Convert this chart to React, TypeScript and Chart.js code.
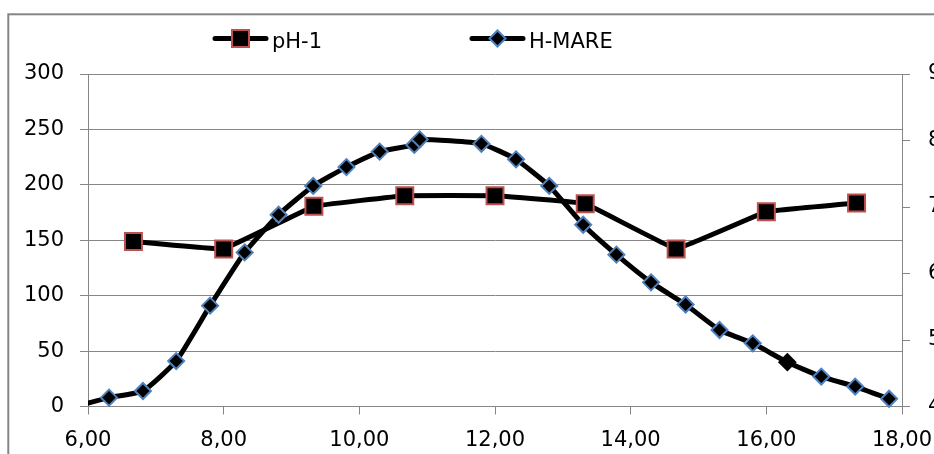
import React, { useEffect, useRef } from 'react';
import { Chart, registerables } from 'chart.js';

Chart.register(...registerables);

// ---- data ----
const seriesNames = ['pH-1', 'H-MARE'];

const phTimes = [6.67, 8.0, 9.33, 10.67, 12.0, 13.33, 14.67, 16.0, 17.33];
const phValues = [6.48, 6.37, 7.01, 7.17, 7.17, 7.05, 6.37, 6.93, 7.06];

const mareTimes = [5.81, 6.31, 6.81, 7.3, 7.8, 8.31, 8.81, 9.32, 9.81, 10.3, 10.81, 10.89, 11.8, 12.31, 12.8, 13.3, 13.79, 14.3, 14.81, 15.31, 15.8, 16.31, 16.81, 17.31, 17.81];
const mareValues = [0, 8, 14, 41, 91, 139, 173, 199, 216, 230, 236, 241, 237, 223, 199, 164, 137, 112, 92, 69, 57, 40, 27, 18, 7];
// point drawn without the blue outline
const mareDarkPoint = 16.31;

const xTickLabels = ['6,00', '8,00', '10,00', '12,00', '14,00', '16,00', '18,00'];
const leftTickLabels = ['0', '50', '100', '150', '200', '250', '300'];
const rightTickLabels = ['4', '5', '6', '7', '8', '9'];

// ---- style ----
const W = 1000;
const H = 454;
const FONT = 'DejaVu Sans';
const GRID = '#868686';
const RED = '#C0504D';
const BLUE = '#4F81BD';

function drawSquare(ctx: CanvasRenderingContext2D, x: number, y: number) {
  const s = 17;
  ctx.fillStyle = '#000';
  ctx.fillRect(x - s / 2, y - s / 2, s, s);
  ctx.strokeStyle = RED;
  ctx.lineWidth = 2;
  ctx.strokeRect(x - s / 2, y - s / 2, s, s);
}

function drawDiamond(ctx: CanvasRenderingContext2D, x: number, y: number) {
  const r = 8;
  ctx.beginPath();
  ctx.moveTo(x, y - r);
  ctx.lineTo(x + r, y);
  ctx.lineTo(x, y + r);
  ctx.lineTo(x - r, y);
  ctx.closePath();
  ctx.fillStyle = '#000';
  ctx.fill();
  ctx.strokeStyle = BLUE;
  ctx.lineWidth = 2;
  ctx.stroke();
}

const framePlugin = {
  id: 'frameAndLegend',
  beforeDraw(chart: any) {
    const ctx = chart.ctx as CanvasRenderingContext2D;
    ctx.save();
    ctx.fillStyle = '#fff';
    ctx.fillRect(0, 0, chart.width, chart.height);
    ctx.strokeStyle = GRID;
    ctx.lineWidth = 2;
    ctx.strokeRect(8.3, 14.3, chart.width + 20, chart.height + 20);
    ctx.restore();
  },
  afterDraw(chart: any) {
    const ctx = chart.ctx as CanvasRenderingContext2D;
    ctx.save();
    const items = [
      { x: 213, name: seriesNames[0], marker: drawSquare },
      { x: 470, name: seriesNames[1], marker: drawDiamond },
    ];
    const y = 38.5;
    for (const it of items) {
      ctx.strokeStyle = '#000';
      ctx.lineWidth = 5;
      ctx.lineCap = 'round';
      ctx.beginPath();
      ctx.moveTo(it.x + 2, y);
      ctx.lineTo(it.x + 53, y);
      ctx.stroke();
      it.marker(ctx, it.x + 27.5, y);
      ctx.fillStyle = '#000';
      ctx.font = `21px "${FONT}"`;
      ctx.textAlign = 'left';
      ctx.textBaseline = 'alphabetic';
      ctx.fillText(it.name, it.x + 59, 48);
    }
    ctx.restore();
  },
};

export default function App() {
  const ref = useRef<HTMLCanvasElement>(null);

  useEffect(() => {
    if (!ref.current) return;
    const tickFont = { family: FONT, size: 21 };
    const chart = new Chart(ref.current, {
      type: 'line',
      data: {
        datasets: [
          {
            label: seriesNames[0],
            data: phTimes.map((t, i) => ({ x: t, y: phValues[i] })),
            yAxisID: 'y2',
            borderColor: '#000',
            borderWidth: 5,
            borderJoinStyle: 'round',
            tension: 0.05,
            pointStyle: 'rect',
            pointRadius: 12,
            pointBackgroundColor: '#000',
            pointBorderColor: RED,
            pointBorderWidth: 2,
            order: 1,
            clip: { left: 0, top: 6, right: 6, bottom: 6 } as any,
          },
          {
            label: seriesNames[1],
            data: mareTimes.map((t, i) => ({ x: t, y: mareValues[i] })),
            yAxisID: 'y',
            borderColor: '#000',
            borderWidth: 5,
            borderJoinStyle: 'round',
            tension: 0.15,
            pointStyle: 'rectRot',
            pointRadius: 8,
            pointBackgroundColor: '#000',
            pointBorderColor: mareTimes.map((t) => (t === mareDarkPoint ? '#000' : BLUE)),
            pointBorderWidth: 2,
            order: 0,
            clip: { left: 0, top: 6, right: 6, bottom: 6 } as any,
          },
        ],
      },
      options: {
        responsive: false,
        animation: false,
        events: [],
        layout: { padding: { top: 74, left: 0, right: 0, bottom: 0 } },
        plugins: {
          legend: { display: false },
          tooltip: { enabled: false },
          title: { display: false },
        },
        scales: {
          x: {
            type: 'linear',
            min: 6,
            max: 18,
            ticks: {
              stepSize: 2,
              font: tickFont,
              color: '#000',
              padding: 13,
              maxRotation: 0,
              callback: (v: any) => xTickLabels[Math.round((Number(v) - 6) / 2)] ?? '',
            },
            grid: { drawOnChartArea: false, drawTicks: true, tickLength: 8, color: GRID, lineWidth: 1 },
            border: { color: GRID, width: 1 },
            afterFit: (s: any) => { s.height = H - 406.5; },
          },
          y: {
            type: 'linear',
            position: 'left',
            min: 0,
            max: 300,
            ticks: {
              stepSize: 50,
              font: tickFont,
              color: '#000',
              padding: 16,
              callback: (v: any) => leftTickLabels[Math.round(Number(v) / 50)] ?? '',
            },
            grid: { drawOnChartArea: true, drawTicks: true, tickLength: 8, color: GRID, lineWidth: 1 },
            border: { color: GRID, width: 1 },
            afterFit: (s: any) => { s.width = 88; },
          },
          y2: {
            type: 'linear',
            position: 'right',
            min: 4,
            max: 9,
            ticks: {
              stepSize: 1,
              font: tickFont,
              color: '#000',
              padding: 18,
              callback: (v: any) => rightTickLabels[Math.round(Number(v) - 4)] ?? '',
            },
            grid: { drawOnChartArea: false, drawTicks: true, tickLength: 8, color: GRID, lineWidth: 1 },
            border: { color: GRID, width: 1 },
            afterFit: (s: any) => { s.width = W - 902; },
          },
        },
      } as any,
      plugins: [framePlugin],
    });
    return () => chart.destroy();
  }, []);

  return (
    <div
      style={{
        position: 'fixed',
        left: 0,
        top: 0,
        width: 934,
        height: 454,
        overflow: 'hidden',
        background: '#fff',
      }}
    >
      <canvas ref={ref} width={W} height={H} style={{ width: W, height: H, display: 'block' }} />
    </div>
  );
}
